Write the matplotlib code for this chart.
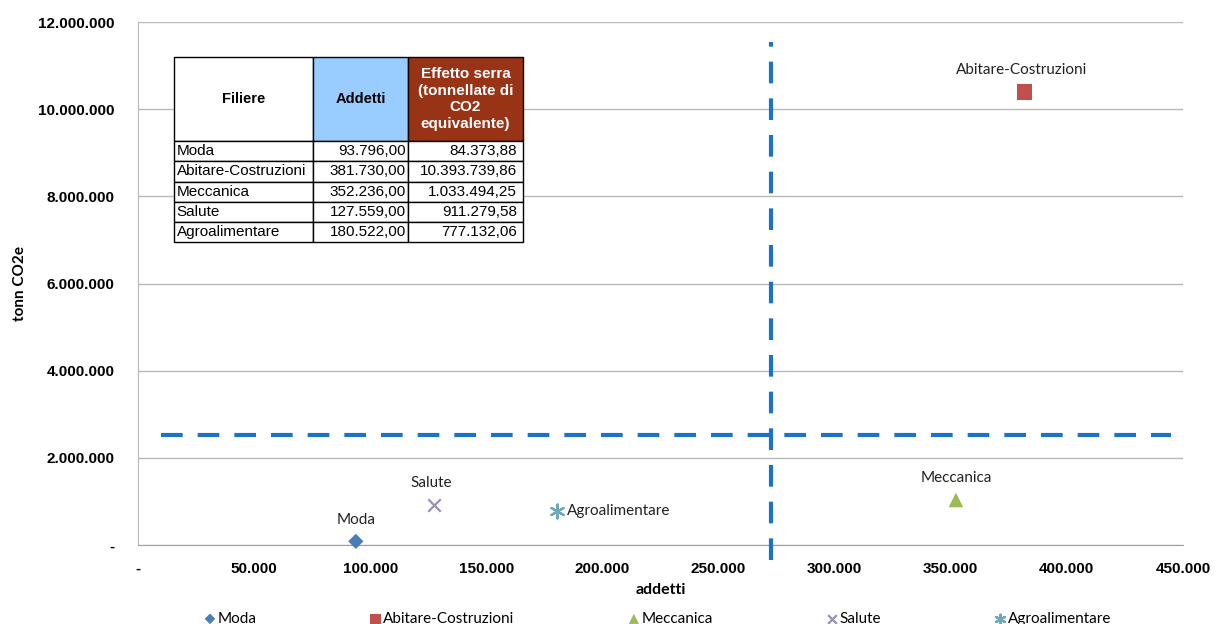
import matplotlib
matplotlib.use("Agg")
import matplotlib.pyplot as plt
from matplotlib.ticker import FuncFormatter

# Data
filiere = ["Moda", "Abitare-Costruzioni", "Meccanica", "Salute", "Agroalimentare"]
addetti = [93796.00, 381730.00, 352236.00, 127559.00, 180522.00]
co2 = [84373.88, 10393739.86, 1033494.25, 911279.58, 777132.06]

colors = ["#4a7ebb", "#c0504d", "#9bbb59", "#9a90b8", "#6fa9b8"]
markers = ["D", "s", "^", "x", (6, 2, 0)]
sizes = [60, 120, 110, 80, 100]

# threshold lines drawn on the chart
v_thr = 272500
h_thr = 2520000


def it_num(v, dec=0):
    s = f"{v:,.{dec}f}"
    return s.replace(",", "#").replace(".", ",").replace("#", ".")


fig = plt.figure(figsize=(12.15, 6.24), dpi=100)
ax = fig.add_axes([0.1136, 0.1266, 0.86, 0.8381])

for name, x, y, c, m, s in zip(filiere, addetti, co2, colors, markers, sizes):
    lw = 1.6 if m in ("x",) or isinstance(m, tuple) else 0.5
    ax.scatter(x, y, marker=m, s=s, color=c, edgecolors=c if lw > 1 else "none",
               linewidths=lw, label=name, zorder=4, clip_on=False)

# point labels
lab_font = dict(family="Lato", fontsize=11, color="#222222")
ax.annotate("Moda", (addetti[0], co2[0]), xytext=(0, 10), textcoords="offset points",
            ha="center", va="bottom", **lab_font)
ax.annotate("Abitare-Costruzioni", (addetti[1], co2[1]), xytext=(-2, 11), textcoords="offset points",
            ha="center", va="bottom", **lab_font)
ax.annotate("Meccanica", (addetti[2], co2[2]), xytext=(0, 11), textcoords="offset points",
            ha="center", va="bottom", **lab_font)
ax.annotate("Salute", (addetti[3], co2[3]), xytext=(-2, 11), textcoords="offset points",
            ha="center", va="bottom", **lab_font)
ax.annotate("Agroalimentare", (addetti[4], co2[4]), xytext=(7, 0), textcoords="offset points",
            ha="left", va="center", **lab_font)

# dashed threshold lines
ax.plot([v_thr, v_thr], [-350000, 11550000], color="#1a73c9", lw=3, dashes=(5.2, 3.6),
        zorder=3, clip_on=False)
ax.plot([10000, 445000], [h_thr, h_thr], color="#1a73c9", lw=3, dashes=(5.2, 3.6),
        zorder=3, clip_on=False)

ax.set_xlim(0, 450000)
ax.set_ylim(0, 12000000)
ax.set_xticks(range(0, 450001, 50000))
ax.set_yticks(range(0, 12000001, 2000000))
fmt = FuncFormatter(lambda v, p: "-" if v == 0 else it_num(v))
ax.xaxis.set_major_formatter(fmt)
ax.yaxis.set_major_formatter(fmt)
ax.tick_params(length=0, labelsize=11)
ax.tick_params(axis="x", pad=12)
ax.tick_params(axis="y", pad=17)
for lab in ax.get_xticklabels() + ax.get_yticklabels():
    lab.set_fontfamily("Liberation Sans")
    lab.set_fontweight("bold")

ax.grid(axis="y", color="#b8b8b8", lw=1)
ax.set_axisbelow(True)
for sp in ["top", "right"]:
    ax.spines[sp].set_visible(False)
ax.spines["bottom"].set_color("#a0a0a0")
ax.spines["left"].set_color("#b8b8b8")

ax.set_xlabel("addetti", family="Lato", fontsize=11.5, fontweight="bold", labelpad=5)
ax.set_ylabel("tonn CO2e", family="Lato", fontsize=11, fontweight="bold", labelpad=8)

# data table
cell_text = [[f, it_num(a, 2), it_num(c, 2)] for f, a, c in zip(filiere, addetti, co2)]
header = ["Filiere", "Addetti", "Effetto serra\n(tonnellate di\nCO2\nequivalente)"]
tbl = ax.table(cellText=[header] + cell_text, colWidths=[139, 95, 115],
               bbox=[0.0344, 0.579, 0.334, 0.354], zorder=5)
tbl.auto_set_font_size(False)
tbl.set_fontsize(11)
for (r, c), cell in tbl.get_celld().items():
    cell.set_edgecolor("black")
    cell.set_linewidth(1)
    cell.set_height(84 if r == 0 else 20.2)
    t = cell.get_text()
    t.set_fontfamily("Liberation Sans")
    if r == 0:
        t.set_fontweight("bold")
        t.set_fontsize(10.5 if c < 2 else 11)
        t.set_linespacing(1.25)
        t.set_ha("center")
        cell._loc = "center"
        if c == 1:
            cell.set_facecolor("#99ccff")
        elif c == 2:
            cell.set_facecolor("#993315")
            t.set_color("white")
    else:
        cell._loc = "left" if c == 0 else "right"
        cell.PAD = 0.02 if c < 2 else 0.05
        t.set_ha("left" if c == 0 else "right")

leg = fig.legend(loc="lower center", bbox_to_anchor=(0.54, -0.025), ncol=5, frameon=False,
                 prop={"family": "Lato", "size": 11}, handletextpad=-0.1, handlelength=1.2,
                 columnspacing=7.2, markerscale=0.7)

fig.savefig("out.png", dpi=100)
